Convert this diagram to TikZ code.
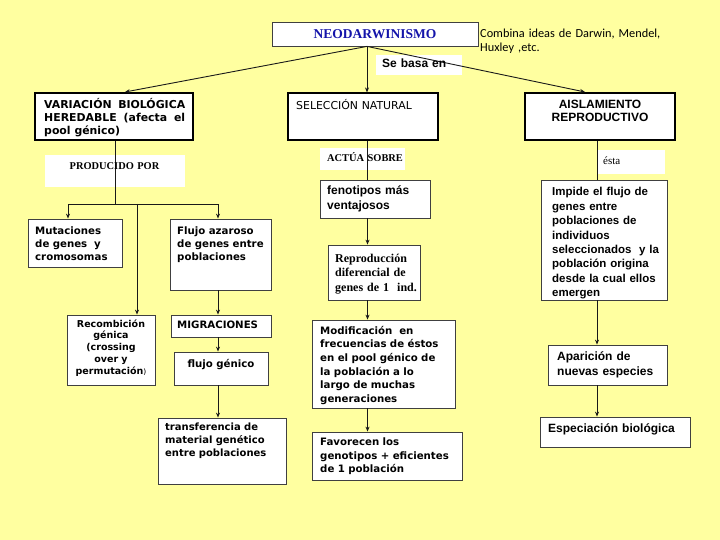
\documentclass[tikz,border=0pt]{standalone}
\usepackage{fontspec}
\setmainfont{Liberation Serif}
\newfontfamily\arialf{Liberation Sans}
\newfontfamily\verdf{DejaVu Sans}
\newfontfamily\calibf{Carlito}
\usetikzlibrary{arrows.meta,calc}
\definecolor{bgyel}{RGB}{255,255,160}
\definecolor{neoblue}{RGB}{20,20,170}
\begin{document}
\begin{tikzpicture}[x=1pt,y=-1pt,
  box/.style={draw=black!75, line width=0.8pt, fill=white, inner sep=0pt},
  thickbox/.style={draw=black, line width=2pt, fill=white, inner sep=0pt},
  whitebg/.style={fill=white, draw=none, inner sep=0pt},
  txt/.style={inner sep=0pt, anchor=base west, align=left, text width=150pt},
  ctxt/.style={inner sep=0pt, anchor=base, align=center, text width=150pt},
  verd/.style={font=\verdf\bfseries\fontsize{10.2}{13.3}\selectfont},
  arialb/.style={font=\arialf\bfseries\fontsize{12}{15}\selectfont},
  timesb/.style={font=\bfseries\fontsize{10.4}{12}\selectfont},
  ln/.style={draw=black!90, line width=0.9pt},
  arr/.style={ln, -{Stealth[length=5pt,width=4pt]}}
]
\fill[bgyel] (0,0) rectangle (720,540);
\useasboundingbox (0,0) rectangle (720,540);

% column coordinates
\coordinate (colB) at (218,0);
\coordinate (colC) at (367.5,0);
\coordinate (colD) at (597,0);

% white label boxes
\node[whitebg, minimum width=86pt, minimum height=20pt] (sebasa) at (419,65) {};
\node[whitebg, minimum width=140pt, minimum height=32pt] (prod) at (115,171) {};
\node[whitebg, minimum width=85pt, minimum height=22pt] (act) at (362.5,159) {};
\node[whitebg, minimum width=68pt, minimum height=24pt] (esta) at (631,162) {};

% boxes
\node[box, minimum width=206pt, minimum height=24pt] (neo) at (375,34) {};
\node[thickbox, minimum width=158pt, minimum height=47pt] (var) at (114,116.5) {};
\node[box, line width=1.2pt, draw=black, minimum width=150pt, minimum height=47pt] (sel) at (363,116.5) {};
\node[thickbox, minimum width=150pt, minimum height=47pt] (ais) at (600,116.5) {};
\node[box, minimum width=94pt, minimum height=48pt] (mut) at (75,243) {};
\node[box, minimum width=101pt, minimum height=71pt] (flu) at (220.5,254.5) {};
\node[box, minimum width=110pt, minimum height=38pt] (fen) at (375,199) {};
\node[box, minimum width=92pt, minimum height=55pt] (rep) at (374,272.5) {};
\node[box, minimum width=126pt, minimum height=120pt] (imp) at (604,240) {};
\node[box, minimum width=88pt, minimum height=70pt] (rec) at (111,350) {};
\node[box, minimum width=100pt, minimum height=22pt] (mig) at (221,326) {};
\node[box, minimum width=94pt, minimum height=33pt] (fg) at (221,368.5) {};
\node[box, minimum width=128pt, minimum height=66pt] (tra) at (222,451) {};
\node[box, minimum width=143pt, minimum height=88pt] (mod) at (383.5,364) {};
\node[box, minimum width=150pt, minimum height=48pt] (fav) at (387,456) {};
\node[box, minimum width=119pt, minimum height=40pt] (apa) at (607.5,365) {};
\node[box, minimum width=150pt, minimum height=30pt] (esp) at (615,432) {};

% connectors
\coordinate (neoS) at ([xshift=-8pt]neo.south);
\draw[arr] (neoS) -- ([xshift=11pt]var.north);
\draw[arr] (neoS) -- (sel.north -| neoS);
\draw[arr] (neoS) -- ([xshift=-15pt]ais.north);

\draw[ln] ([xshift=1pt]var.south) -- ++(0,63) coordinate (jv);
\draw[arr] (jv) -| ([xshift=-7pt]mut.north);
\draw[arr] (jv) -| (flu.north -| colB);
\draw[arr] ([xshift=26pt]rec.north |- jv) -- ([xshift=26pt]rec.north);
\draw[arr] (flu.south -| colB) -- (mig.north -| colB);
\draw[arr] (mig.south -| colB) -- (fg.north -| colB);
\draw[arr] (fg.south -| colB) -- (tra.north -| colB);

\draw[ln] (sel.south -| colC) -- (fen.north -| colC);
\draw[arr] (fen.south -| colC) -- (rep.north -| colC);
\draw[arr] (rep.south -| colC) -- (mod.north -| colC);
\draw[arr] (mod.south -| colC) -- (fav.north -| colC);

\draw[ln] (ais.south -| colD) -- (imp.north -| colD);
\draw[arr] (imp.south -| colD) -- (apa.north -| colD);
\draw[arr] (apa.south -| colD) -- (esp.north -| colD);

% texts
\node[ctxt, font=\bfseries\fontsize{13.5}{16}\selectfont, text=neoblue] (t-neo) at (375,39) {NEODARWINISMO};
\node[txt, font=\calibf\fontsize{12.3}{14.5}\selectfont, text width=220pt] (t-comb) at (480,37.5) {Combina ideas de Darwin, Mendel,\\Huxley ,etc.};
\node[txt, arialb] (t-sebasa) at (382,68) {Se basa en};
\node[inner sep=0pt, anchor=base west, align=justify, text width=141pt, font=\verdf\bfseries\fontsize{10.9}{13}\selectfont] (t-var) at (44,109) {VARIACIÓN BIOLÓGICA\linebreak HEREDABLE (afecta el\linebreak pool génico)};
\node[txt, font=\verdf\fontsize{10.9}{13}\selectfont] (t-sel) at (296,110) {SELECCIÓN NATURAL};
\node[ctxt, font=\arialf\bfseries\fontsize{12}{13}\selectfont] (t-ais) at (600,109) {AISLAMIENTO\\REPRODUCTIVO};
\node[ctxt, timesb] (t-prod) at (114.5,170) {PRODUCIDO POR};
\node[txt, timesb] (t-act) at (327,162) {ACTÚA SOBRE};
\node[txt, font=\fontsize{11}{13}\selectfont] (t-esta) at (603,165) {ésta};
\node[txt, verd] (t-mut) at (35,234) {Mutaciones\\de genes\ \ y\\cromosomas};
\node[txt, verd] (t-flu) at (177,234) {Flujo azaroso\\de genes entre\\poblaciones};
\node[txt, arialb] (t-fen) at (327,195) {fenotipos más\\ventajosos};
\node[txt, font=\bfseries\fontsize{12}{14.5}\selectfont] (t-rep) at (335,262) {Reproducción\\diferencial de\\genes de 1\ \ ind.};
\node[txt, font=\arialf\bfseries\fontsize{11.5}{14.4}\selectfont] (t-imp) at (552,196) {Impide el flujo de\\genes entre\\poblaciones de\\individuos\\seleccionados\ \ y la\\población origina\\desde la cual ellos\\emergen};
\node[ctxt, font=\verdf\bfseries\fontsize{9.5}{11.8}\selectfont] (t-rec) at (111,327) {Recombición\\génica\\(crossing\\over y\\permutación{\mdseries\fontsize{7.5}{8}\selectfont)}};
\node[txt, verd] (t-mig) at (177,328) {MIGRACIONES};
\node[ctxt, verd] (t-fg) at (221,367) {flujo génico};
\node[txt, font=\verdf\bfseries\fontsize{10}{13}\selectfont] (t-tra) at (165,430.7) {transferencia de\\material genético\\entre poblaciones};
\node[txt, font=\verdf\bfseries\fontsize{10.2}{13.6}\selectfont] (t-mod) at (320,334.3) {Modificación\ \ en\\frecuencias de éstos\\en el pool génico de\\la población a lo\\largo de muchas\\generaciones};
\node[txt, verd] (t-fav) at (320,445.7) {Favorecen los\\genotipos + eficientes\\de 1 población};
\node[txt, arialb] (t-apa) at (557,360) {Aparición de\\nuevas especies};
\node[txt, arialb] (t-esp) at (548,432) {Especiación biológica};
\end{tikzpicture}
\end{document}
